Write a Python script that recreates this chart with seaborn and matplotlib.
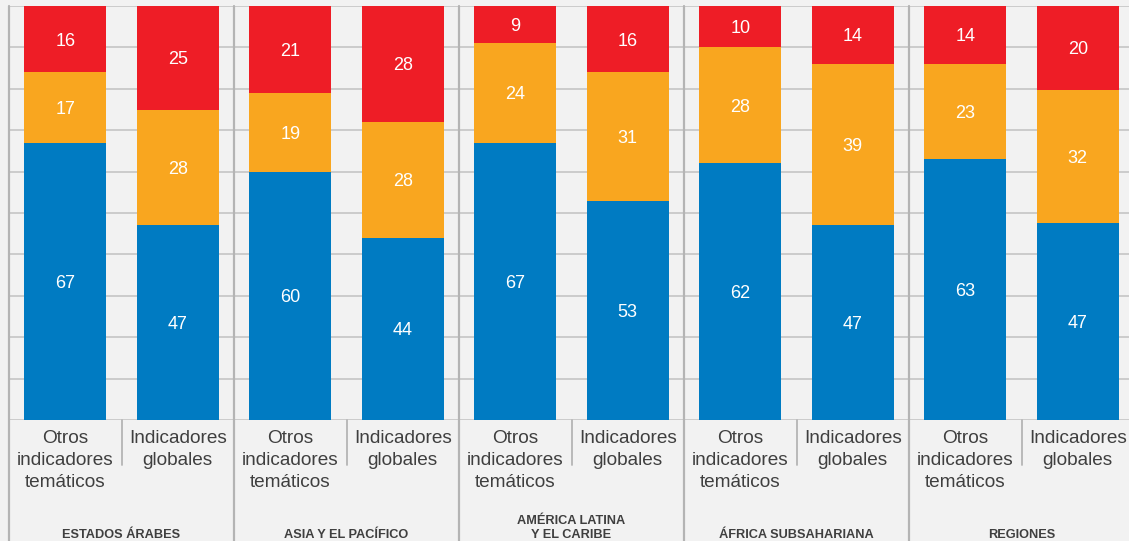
import numpy as np
import pandas as pd
import matplotlib
matplotlib.use("Agg")
import matplotlib.pyplot as plt
import matplotlib.transforms as mtransforms
import seaborn as sns

# Regions (groups) and the two indicator types within each
regions = ["ESTADOS ÁRABES", "ASIA Y EL PACÍFICO", "AMÉRICA LATINA\nY EL CARIBE",
           "ÁFRICA SUBSAHARIANA", "REGIONES"]
bar_types = ["Otros\nindicadores\ntemáticos", "Indicadores\nglobales"]

# Shares (%) per bar, bars ordered region by region: [otros, globales]
blue_vals = [67, 47, 60, 44, 67, 53, 62, 47, 63, 47]
orange_vals = [17, 28, 19, 28, 24, 31, 28, 39, 23, 32]
red_vals = [16, 25, 21, 28, 9, 16, 10, 14, 14, 20]

BLUE = "#007bc2"
ORANGE = "#f9a61f"
RED = "#ee1d26"
BG = "#f2f2f2"
GRID = "#c9c9c9"
SEP = "#b4b4b4"
TEXT = "#3f3f3f"

sns.set_theme(style="white")
plt.rcParams["font.family"] = ["Liberation Sans", "DejaVu Sans"]

df = pd.DataFrame({
    "bar": np.arange(len(blue_vals)),
    "blue": blue_vals,
    "orange": orange_vals,
    "red": red_vals,
})
# each bar is a 100 % stack of its rounded shares
total = df["blue"] + df["orange"] + df["red"]
df["c_blue"] = df["blue"] / total * 100
df["c_orange"] = (df["blue"] + df["orange"]) / total * 100
df["c_red"] = 100.0

W, H = 1129, 541
fig = plt.figure(figsize=(W / 100, H / 100), dpi=100, facecolor=BG)
ax = fig.add_axes([9 / W, 121 / H, 1125 / W, 414 / H])
ax.set_facecolor(BG)

# horizontal grid every 10 %
for yv in range(0, 101, 10):
    ax.axhline(yv, color=GRID, lw=1.3, zorder=0)

bw = 0.73
for col, colour in [("c_red", RED), ("c_orange", ORANGE), ("c_blue", BLUE)]:
    sns.barplot(data=df, x="bar", y=col, color=colour, saturation=1,
                width=bw, errorbar=None, ax=ax, zorder=2, linewidth=0)

ax.set_xlim(-0.5, len(blue_vals) - 0.5)
ax.set_ylim(0, 100)
for s in ax.spines.values():
    s.set_visible(False)
ax.set_xticks([])
ax.set_yticks([])
ax.set_xlabel("")
ax.set_ylabel("")

# value labels in the middle of each segment (nudged slightly down)
nudge = ax.transData + mtransforms.ScaledTranslation(0, -2 / 100, fig.dpi_scale_trans)
for i, r in df.iterrows():
    segs = [(r["blue"], r["c_blue"] / 2),
            (r["orange"], (r["c_blue"] + r["c_orange"]) / 2),
            (r["red"], (r["c_orange"] + r["c_red"]) / 2)]
    for v, yc in segs:
        ax.text(i, yc, f"{int(v)}", ha="center", va="center", color="white",
                fontsize=13, zorder=3, transform=nudge)

trans = mtransforms.blended_transform_factory(ax.transData, ax.transAxes)
px = 1 / 414  # one pixel in axes-fraction units (vertical)

# group separators reaching down through the label area
for g in range(len(regions) + 1):
    xg = g * 2 - 0.5
    ax.plot([xg, xg], [1, -130 * px], transform=trans, color=SEP, lw=1.6,
            clip_on=False, zorder=1)
# short separators between the two bars of a group
for g in range(len(regions)):
    xs = g * 2 + 0.5
    ax.plot([xs, xs], [0, -45 * px], transform=trans, color=SEP, lw=1.3,
            clip_on=False, zorder=1)

# bar labels and region labels
for g, reg in enumerate(regions):
    for k, bt in enumerate(bar_types):
        ax.text(g * 2 + k, -10 * px, bt, transform=trans, ha="center", va="top",
                fontsize=13.7, color=TEXT, linespacing=1.37)
    ax.text(g * 2 + 0.5, -118 * px, reg, transform=trans, ha="center",
            va="baseline", fontsize=9.2, color=TEXT, fontweight="bold",
            linespacing=1.25)

fig.savefig("out.png", dpi=100, facecolor=BG)
